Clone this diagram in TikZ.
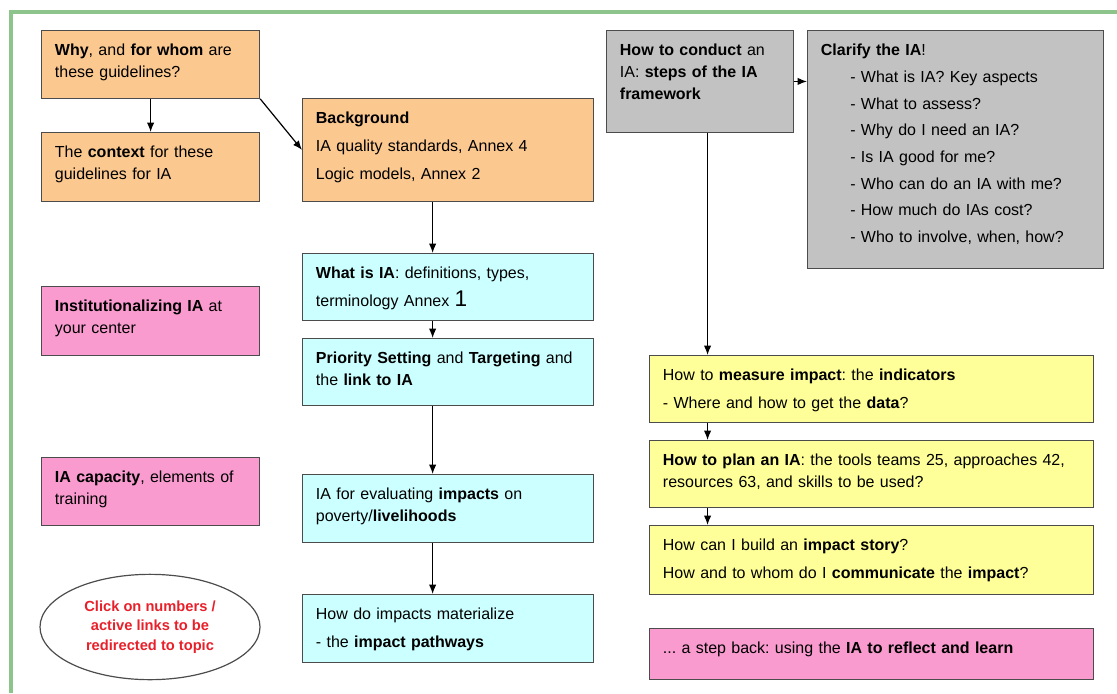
\documentclass[tikz,border=0pt]{standalone}
\usepackage{fontspec}
\setmainfont{Liberation Sans}
\usepackage{xcolor}
\usepackage{tikz}
\usetikzlibrary{arrows.meta,positioning,shapes.geometric,calc}
\frenchspacing

\definecolor{peach}{HTML}{FBC890}
\definecolor{aqua}{HTML}{CCFFFF}
\definecolor{rose}{HTML}{FA9BD0}
\definecolor{lemon}{HTML}{FFFF99}
\definecolor{greybox}{HTML}{C2C2C2}
\definecolor{framegreen}{HTML}{8CC48C}
\definecolor{linkred}{HTML}{E8202A}

\begin{document}
\begin{tikzpicture}[x=0.75pt, y=-0.75pt,
    box/.style={rectangle, draw=black!70, line width=0.9pt, anchor=north west, align=left, inner xsep=10pt, inner ysep=10pt, text height=9pt, font=\fontsize{12}{16.5}\selectfont},
    intro/.style={box, fill=peach},
    topic/.style={box, fill=aqua},
    extra/.style={box, fill=rose},
    phase/.style={box, fill=lemon},
    frameworkbox/.style={box, fill=greybox},
    arr/.style={-{Latex[length=7pt,width=5.5pt]}, line width=0.9pt}
]
\useasboundingbox (0,0) rectangle (1117,693);
\draw[framegreen, line width=3pt] (11,693) -- (11,12) -- (1117,12);

% left column
\node[intro, text width=143.5pt, text depth=21.75pt] (why) at (41,30) {\textbf{Why}, and \textbf{for whom} are\\these guidelines?};
\node[intro, text width=143.5pt, text depth=22.5pt] (context) at (41,132) {The \textbf{context} for these\\guidelines for IA};
\node[extra, text width=143.5pt, text depth=22.5pt] (inst) at (41,286) {\textbf{Institutionalizing IA} at\\your center};
\node[extra, text width=143.5pt, text depth=21.75pt] (capacity) at (41,457) {\textbf{IA capacity}, elements of\\training};
\node[ellipse, draw=black!70, line width=0.9pt, minimum width=165pt, minimum height=79pt, inner sep=0pt, align=center, text=linkred, font=\fontsize{11}{14.5}\selectfont\bfseries] (click) at (150,627) {Click on numbers /\\active links to be\\redirected to topic};

% middle column
\node[intro, text width=198.25pt, text depth=48pt] (bg) at (302,98) {\textbf{Background}\\[4.5pt]IA quality standards,\ Annex 4\\[4.5pt]Logic models, Annex 2};
\node[topic, text width=198.25pt, text depth=21pt] (whatis) at (302,253) {\textbf{What is IA}: definitions, types,\\[4.5pt]terminology Annex {\fontsize{17}{17}\selectfont 1}};
\node[topic, text width=198.25pt, text depth=21pt] (priority) at (302,338) {\textbf{Priority Setting} and \textbf{Targeting} and\\the \textbf{link to IA}};
\node[topic, text width=198.25pt, text depth=21.75pt] (impacts) at (302,474) {IA for evaluating \textbf{impacts} on\\poverty/\textbf{livelihoods}};
\node[topic, text width=198.25pt, text depth=21.75pt] (pathways) at (302,594) {How do impacts materialize\\[4.5pt]- the \textbf{impact pathways}};

% right column
\node[frameworkbox, text width=120.25pt, text depth=47.25pt] (conduct) at (606,30) {\textbf{How to conduct} an\\IA: \textbf{steps of the IA}\\\textbf{framework}};
\node[frameworkbox, text width=202pt, text depth=149.25pt] (clarify) at (807,30) {\textbf{Clarify the IA}!\\[3.5pt]
  \hspace*{22pt}- What is IA? Key aspects\\[3.5pt]
  \hspace*{22pt}- What to assess?\\[3.5pt]
  \hspace*{22pt}- Why do I need an IA?\\[3.5pt]
  \hspace*{22pt}- Is IA good for me?\\[3.5pt]
  \hspace*{22pt}- Who can do an IA with me?\\[3.5pt]
  \hspace*{22pt}- How much do IAs cost?\\[3.5pt]
  \hspace*{22pt}- Who to involve, when, how?};
\node[phase, text width=313pt, text depth=21pt] (measure) at (649,355) {How to \textbf{measure impact}: the \textbf{indicators}\\[4.5pt]- Where and how to get the \textbf{data}?};
\node[phase, text width=313pt, text depth=21pt] (plan) at (649,440) {\textbf{How to plan an IA}: the tools teams 25, approaches 42,\\resources 63, and skills to be used?};
\node[phase, text width=313pt, text depth=22.5pt] (story) at (649,525) {How can I build an \textbf{impact story}?\\[4.5pt]How and to whom do I \textbf{communicate} the \textbf{impact}?};
\node[extra, text width=313pt, text depth=9pt] (stepback) at (649,628) {... a step back: using the \textbf{IA to reflect and learn}};

\coordinate (spine) at ([xshift=-11.6pt]bg.south);
\coordinate (trunk) at ([xshift=5.6pt]conduct.south);

\draw[arr] (why) -- (context);
\draw[arr] (why.south east) -- (bg.west);
\draw[arr] (spine) -- (spine |- whatis.north);
\draw[arr] (spine |- whatis.south) -- (spine |- priority.north);
\draw[arr] (spine |- priority.south) -- (spine |- impacts.north);
\draw[arr] (spine |- impacts.south) -- (spine |- pathways.north);

\draw[arr] (conduct.east) -- (conduct.east -| clarify.west);
\draw[arr] (trunk) -- (trunk |- measure.north);
\draw[arr] (trunk |- measure.south) -- (trunk |- plan.north);
\draw[arr] (trunk |- plan.south) -- (trunk |- story.north);
\end{tikzpicture}
\end{document}
